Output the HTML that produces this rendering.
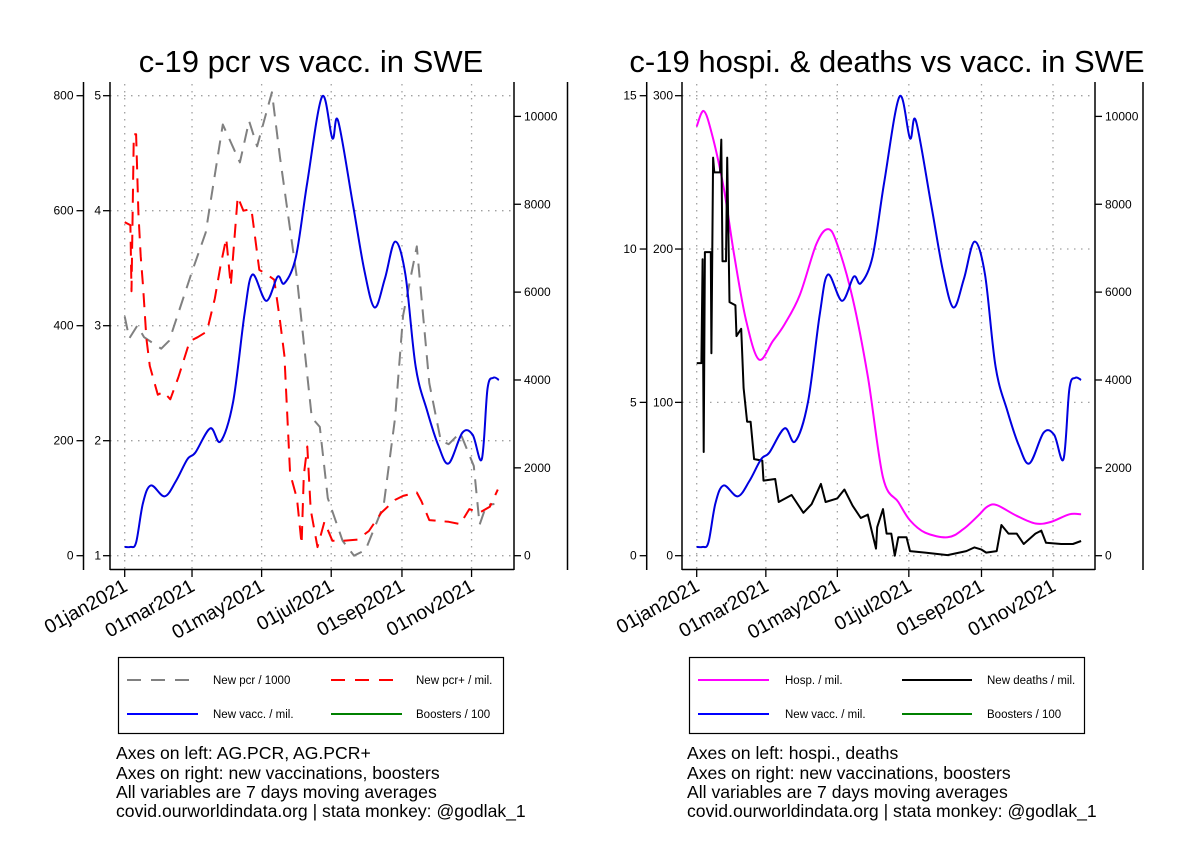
<!DOCTYPE html>
<html><head><meta charset="utf-8"><style>
html,body{margin:0;padding:0;background:#fff;}
svg{display:block;font-family:"Liberation Sans",Arial,sans-serif;}
</style></head><body>
<svg id="chart" width="1188" height="864" viewBox="0 0 1188 864" xmlns="http://www.w3.org/2000/svg">
<rect width="1188" height="864" fill="#fff"/>
<text x="311" y="72" font-size="31" text-anchor="middle">c-19 pcr vs vacc. in SWE</text>
<text x="887" y="72" font-size="31" text-anchor="middle">c-19 hospi. &amp; deaths vs vacc. in SWE</text>
<g id="left"></g>
<g id="right"></g>

<g>
<rect x="118.5" y="657.5" width="385" height="76" fill="none" stroke="#000" stroke-width="1.2"/>
<line x1="127" y1="680" x2="198" y2="680" stroke="#808080" stroke-width="2" stroke-dasharray="14,10"/>
<text x="213" y="684" font-size="11.5">New pcr / 1000</text>
<line x1="331" y1="680" x2="402" y2="680" stroke="#ff0000" stroke-width="2" stroke-dasharray="14,10"/>
<text x="416" y="684" font-size="11.5">New pcr+ / mil.</text>
<line x1="127" y1="714" x2="198" y2="714" stroke="#0000ff" stroke-width="2"/>
<text x="213" y="718" font-size="11.5">New vacc. / mil.</text>
<line x1="331" y1="714" x2="402" y2="714" stroke="#008000" stroke-width="2"/>
<text x="416" y="718" font-size="11.5">Boosters / 100</text>
</g>
<g>
<rect x="689.5" y="657.5" width="395" height="76" fill="none" stroke="#000" stroke-width="1.2"/>
<line x1="698" y1="680" x2="769" y2="680" stroke="#ff00ff" stroke-width="2"/>
<text x="785" y="684" font-size="11.5">Hosp. / mil.</text>
<line x1="902" y1="680" x2="972" y2="680" stroke="#000" stroke-width="2"/>
<text x="987" y="684" font-size="11.5">New deaths / mil.</text>
<line x1="698" y1="714" x2="769" y2="714" stroke="#0000ff" stroke-width="2"/>
<text x="785" y="718" font-size="11.5">New vacc. / mil.</text>
<line x1="902" y1="714" x2="972" y2="714" stroke="#008000" stroke-width="2"/>
<text x="987" y="718" font-size="11.5">Boosters / 100</text>
</g>
<g font-size="17.6">
<text x="116" y="759">Axes on left: AG.PCR, AG.PCR+</text>
<text x="116" y="779">Axes on right: new vaccinations, boosters</text>
<text x="116" y="798">All variables are 7 days moving averages</text>
<text x="116" y="817">covid.ourworldindata.org | stata monkey: @godlak_1</text>
</g>
<g font-size="17.6">
<text x="687" y="759">Axes on left: hospi., deaths</text>
<text x="687" y="779">Axes on right: new vaccinations, boosters</text>
<text x="687" y="798">All variables are 7 days moving averages</text>
<text x="687" y="817">covid.ourworldindata.org | stata monkey: @godlak_1</text>
</g>
</svg>
<script>
// ---- data (day index from 01jan2021) ----
const dateTickDays = [0, 59, 120, 181, 243, 304];
const dateTickLabels = ["01jan2021","01mar2021","01may2021","01jul2021","01sep2021","01nov2021"];
const vaccDays = [0,5,10,16,23,35,45,55,62,75,84,95,105,112,124,134,140,150,160,173,182,187,200,210,219,228,237,246,255,265,275,284,296,305,313,318,323,328];
const vaccVals = [200,200,300,1200,1600,1350,1700,2200,2350,2900,2600,3500,5500,6400,5800,6350,6200,6800,8500,10450,9500,9900,8000,6500,5650,6300,7150,6400,4300,3300,2500,2100,2800,2750,2200,3800,4050,4000];
const pcrDays = [0,4,11,17,32,39,59,71,86,101,109,116,129,136,151,164,171,178,191,201,211,227,237,244,256,267,277,284,294,306,311,317,324];
const pcrVals = [3.08,2.89,3.0,2.9,2.8,2.87,3.47,3.81,4.75,4.42,4.78,4.56,5.03,4.47,3.41,2.2,2.12,1.5,1.13,1.0,1.05,1.44,2.2,3.09,3.69,2.5,2.0,1.97,2.07,1.78,1.27,1.44,1.45];
const posDays = [0,5,6,8,10,12,14,16,19,22,29,34,40,47,57,64,72,79,84,89,93,99,104,111,118,124,131,136,140,145,151,155,157,160,163,169,175,182,191,204,214,225,237,244,256,260,267,284,294,302,311,320,327];
const posVals = [580,575,460,733,733,596,521,470,378,330,280,285,272,310,373,380,390,447,504,552,470,624,600,603,497,490,480,410,348,143,99,20,140,190,80,15,59,26,26,28,43,75,97,104,110,95,62,59,55,81,75,85,115];
const hospDays = [0,6,13,23,32,42,53,65,75,88,102,112,120,133,146,159,172,182,195,214,227,240,248,256,273,289,302,318,328];
const hospVals = [280,290,275,240,196,154,128,140,151,170,203,213,203,168,117,51,35,23,15,12,17,26,32,33,26,21,22,27,27];
const deathDays = [0,4,5,6,7,12,12.5,14,15,20,21,22,25,26,28,33,34,38,40,43,46,49,56,57,67,70,81,91,98,106,110,120,126,133,140,146,153,154,159,162,166,169,172,179,182,195,214,230,237,243,247,256,260,266,273,279,289,294,298,311,321,328];
const deathVals = [6.28,6.28,9.67,3.38,9.9,9.9,6.6,12.98,12.5,12.5,13.57,9.6,9.6,12.98,8.27,8.17,7.16,7.4,5.47,4.37,4.37,3.15,3.1,2.45,2.5,1.75,1.98,1.4,1.68,2.34,1.75,1.87,2.16,1.63,1.23,1.34,0.23,0.93,1.52,0.72,0.72,0,0.6,0.6,0.15,0.1,0.02,0.15,0.27,0.2,0.1,0.15,1.0,0.72,0.72,0.38,0.72,0.82,0.42,0.38,0.38,0.48];
const leftOuterTicks = [0,200,400,600,800];
const leftInnerTicks = [1,2,3,4,5];
const rightOuterTicks = [0,5,10,15];
const rightInnerTicks = [0,100,200,300];
const vaccTicks = [0,2000,4000,6000,8000,10000];

const NS = "http://www.w3.org/2000/svg";
function mk(parent, tag, attrs){ const e=document.createElementNS(NS,tag); for(const k in attrs) e.setAttribute(k,attrs[k]); parent.appendChild(e); return e; }

function smoothPath(P){
  let d='M'+P[0][0].toFixed(1)+','+P[0][1].toFixed(1);
  for(let i=0;i<P.length-1;i++){
    const p0=P[Math.max(0,i-1)],p1=P[i],p2=P[i+1],p3=P[Math.min(P.length-1,i+2)];
    const c1=[p1[0]+(p2[0]-p0[0])/6,p1[1]+(p2[1]-p0[1])/6];
    const c2=[p2[0]-(p3[0]-p1[0])/6,p2[1]-(p3[1]-p1[1])/6];
    d+=' C'+c1[0].toFixed(1)+','+c1[1].toFixed(1)+' '+c2[0].toFixed(1)+','+c2[1].toFixed(1)+' '+p2[0].toFixed(1)+','+p2[1].toFixed(1);
  }
  return d;
}

function panel(g, cfg){
  const yBot=555.7, yTop=95.7, yVaccTop=116.4;
  const xs = d => cfg.x0 + d*cfg.ppd;
  const yOuter = v => yBot - (v-cfg.oMin)/(cfg.oMax-cfg.oMin)*(yBot-yTop);
  const yInner = v => yBot - (v-cfg.iMin)/(cfg.iMax-cfg.iMin)*(yBot-yTop);
  const yV = v => yBot - v/10000*(yBot-yVaccTop);
  dateTickDays.forEach(d=>{ const l=mk(g,'line',{x1:xs(d),x2:xs(d),y1:84,y2:569,stroke:'#a0a0a0','stroke-width':1.3,'stroke-dasharray':'1.5,5.5'});
      });
  cfg.iTicks.forEach(v=>{ const l=mk(g,'line',{x1:cfg.inX,x2:cfg.rX,y1:yInner(v),y2:yInner(v),stroke:'#a0a0a0','stroke-width':1.3,'stroke-dasharray':'1.5,5.5'});
      });
  const ax = (x1,y1,x2,y2,name)=>{ const l=mk(g,'line',{x1,y1,x2,y2,stroke:'#000','stroke-width':1.5});   };
  ax(cfg.outX,82,cfg.outX,570,'outer-left-axis');
  ax(cfg.inX,82,cfg.inX,570,'inner-left-axis');
  ax(cfg.inX,569.5,cfg.rX,569.5,'x-axis');
  ax(cfg.rX,82,cfg.rX,570,'right-axis');
  ax(cfg.rOutX,82,cfg.rOutX,570,'outer-right-axis');
  cfg.oTicks.forEach(v=>{ const y=yOuter(v); mk(g,'line',{x1:cfg.outX-7,x2:cfg.outX,y1:y,y2:y,stroke:'#000','stroke-width':1.3});
    const t=mk(g,'text',{x:cfg.outX-10,y:y+4,'font-size':12,'text-anchor':'end'}); t.textContent=v;
      });
  cfg.iTicks.forEach(v=>{ const y=yInner(v); mk(g,'line',{x1:cfg.inX-7,x2:cfg.inX,y1:y,y2:y,stroke:'#000','stroke-width':1.3});
    const t=mk(g,'text',{x:cfg.inX-9,y:y+4,'font-size':12,'text-anchor':'end'}); t.textContent=v;
      });
  vaccTicks.forEach(v=>{ const y=yV(v); mk(g,'line',{x1:cfg.rX,x2:cfg.rX+7,y1:y,y2:y,stroke:'#000','stroke-width':1.3});
    const t=mk(g,'text',{x:cfg.rX+10,y:y+4,'font-size':12}); t.textContent=v;
      });
  dateTickDays.forEach((d,i)=>{ const x=xs(d); mk(g,'line',{x1:x,x2:x,y1:569,y2:577,stroke:'#000','stroke-width':1.3});
    const t=mk(g,'text',{x:x+4,y:590,'font-size':19.5,'text-anchor':'end',transform:`rotate(-29 ${x+4} 590)`}); t.textContent=dateTickLabels[i];
      });
  cfg.series.forEach(s=>{
    const P = s.days.map((d,i)=>[xs(d), s.y(s.vals[i])]);
    let p;
    if(s.smooth){ p=mk(g,'path',{d:smoothPath(P),fill:'none',stroke:s.color,'stroke-width':2}); }
    else { p=mk(g,'polyline',{points:P.map(q=>q[0].toFixed(1)+','+q[1].toFixed(1)).join(' '),fill:'none',stroke:s.color,'stroke-width':2,'stroke-linejoin':'round'}); }
    if(s.dash) p.setAttribute('stroke-dasharray',s.dash);
    
    
  });
}

const L = {x0:124.7, ppd:1.141, outX:83.5, inX:110, rX:514, rOutX:567.5, oMin:0,oMax:800,iMin:1,iMax:5, oTicks:leftOuterTicks, iTicks:leftInnerTicks};
const Ly = {yOuter:v=>555.7-v/800*460, yInner:v=>555.7-(v-1)/4*460, yV:v=>555.7-v/10000*439.3};
L.series=[
 {name:'pcr-line',days:pcrDays,vals:pcrVals,y:Ly.yInner,color:'#808080',dash:'14,9'},
 {name:'pcr-positive-line',days:posDays,vals:posVals,y:Ly.yOuter,color:'#ff0000',dash:'14,9'},
 {name:'vaccination-line',days:vaccDays,vals:vaccVals,y:Ly.yV,color:'#0000e0',smooth:true}
];
panel(document.getElementById('left'),L);

const R = {x0:696.7, ppd:1.172, outX:646.7, inX:682, rX:1095, rOutX:1143, oMin:0,oMax:15,iMin:0,iMax:300, oTicks:rightOuterTicks, iTicks:rightInnerTicks};
const Ry = {yOuter:v=>555.7-v/15*460, yInner:v=>555.7-v/300*460, yV:v=>555.7-v/10000*439.3};
R.series=[
 {name:'hospital-line',days:hospDays,vals:hospVals,y:Ry.yInner,color:'#ff00ff',smooth:true},
 {name:'deaths-line',days:deathDays,vals:deathVals,y:Ry.yOuter,color:'#000000'},
 {name:'vaccination-line',days:vaccDays,vals:vaccVals,y:Ry.yV,color:'#0000e0',smooth:true}
];
panel(document.getElementById('right'),R);
</script>
</body></html>
